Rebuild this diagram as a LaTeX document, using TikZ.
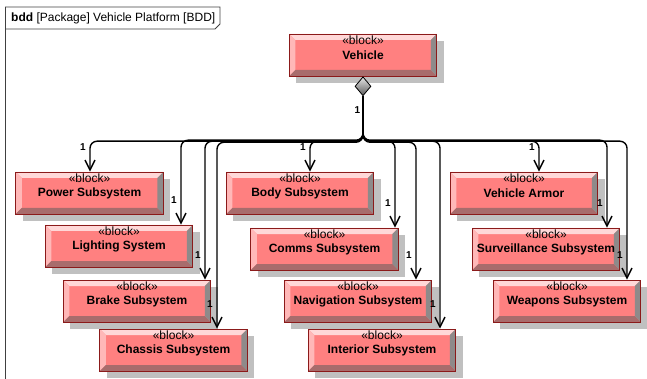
\documentclass[tikz,border=0pt]{standalone}
\usepackage{fontspec}
\setmainfont{Liberation Sans}
\usetikzlibrary{arrows.meta,shapes.geometric,shadows}

\definecolor{blockfill}{HTML}{FF8080}
\definecolor{blockedge}{HTML}{8B1A1A}
\definecolor{beveltop}{HTML}{FFD8D8}
\definecolor{bevelleft}{HTML}{FFB8B8}
\definecolor{bevelbottom}{HTML}{A86C6C}
\definecolor{bevelright}{HTML}{8E8A8A}
\definecolor{shadowgray}{HTML}{C0C0C0}

\tikzset{
  block/.style={draw=blockedge, line width=0.8pt, fill=blockfill,
    minimum width=147.5pt, minimum height=42pt, inner sep=0pt,
    font=\fontsize{12}{14}\selectfont\bfseries,
    drop shadow={shadow xshift=7pt, shadow yshift=-7pt, fill=shadowgray, opacity=1},
    path picture={
      \fill[beveltop] (path picture bounding box.north west) -- (path picture bounding box.north east)
        -- ([shift={(-6pt,-6pt)}]path picture bounding box.north east)
        -- ([shift={(6pt,-6pt)}]path picture bounding box.north west) -- cycle;
      \fill[bevelleft] (path picture bounding box.north west) -- (path picture bounding box.south west)
        -- ([shift={(6pt,6pt)}]path picture bounding box.south west)
        -- ([shift={(6pt,-6pt)}]path picture bounding box.north west) -- cycle;
      \fill[bevelbottom] (path picture bounding box.south west) -- (path picture bounding box.south east)
        -- ([shift={(-6pt,6pt)}]path picture bounding box.south east)
        -- ([shift={(6pt,6pt)}]path picture bounding box.south west) -- cycle;
      \fill[bevelright] (path picture bounding box.north east) -- (path picture bounding box.south east)
        -- ([shift={(-6pt,6pt)}]path picture bounding box.south east)
        -- ([shift={(-6pt,-6pt)}]path picture bounding box.north east) -- cycle;
    }},
  stereo/.style={anchor=north, inner sep=0pt, yshift=-2pt,
    font=\fontsize{12}{14}\selectfont\mdseries},
  composite/.style={diamond, draw=black, line width=0.8pt, aspect=0.84,
    minimum width=16pt, minimum height=19pt, inner sep=0pt,
    top color=gray!20, bottom color=gray!70!black},
  assoc/.style={draw=black, line width=1.4pt, rounded corners=7pt,
    -{Straight Barb[length=10pt,width=10pt]}},
  mult/.style={inner sep=0pt, xshift=-7pt, yshift=25pt,
    font=\fontsize{10}{12}\selectfont\bfseries},
  frame/.style={draw=black!75, line width=0.8pt}
}

\begin{document}
\begin{tikzpicture}[x=1pt,y=-1pt]
  \useasboundingbox (0,0) rectangle (647,379);

  % frame and heading
  \draw[frame] (5.5,379) -- (5.5,7) -- (220,7) -- (220,24) -- (215,29) -- (5.5,29);
  \node[anchor=west, inner sep=0pt, font=\fontsize{12}{14}\selectfont] (title) at (11,18.5)
    {\textbf{bdd} [Package] Vehicle Platform [BDD]};

  % blocks
  \node[block] (veh) at (363,55)    {Vehicle};
  \node[block] (pwr) at (89.5,193)  {Power Subsystem};
  \node[block] (lgt) at (119,246)   {Lighting System};
  \node[block] (brk) at (137,301)   {Brake Subsystem};
  \node[block] (chs) at (173.5,350) {Chassis Subsystem};
  \node[block] (bdy) at (300,193)   {Body Subsystem};
  \node[block] (com) at (324.5,249) {Comms Subsystem};
  \node[block] (nav) at (358,301)   {Navigation Subsystem};
  \node[block] (int) at (382,350)   {Interior Subsystem};
  \node[block] (arm) at (524,193)   {Vehicle Armor};
  \node[block] (srv) at (546,249)   {Surveillance Subsystem};
  \node[block] (wpn) at (567,301)   {Weapons Subsystem};

  \foreach \b in {veh,pwr,lgt,brk,chs,bdy,com,nav,int,arm,srv,wpn}
    \node[stereo] at (\b.north) {«block»};

  % composition
  \node[composite, anchor=north] (dia) at (veh.south) {};
  \node[mult, xshift=1.5pt, yshift=-39pt] at (dia.south) {1};

  \foreach \t/\dx/\d in {pwr/0.5/45, lgt/62/44, brk/68/45, chs/43.5/46,
                         bdy/10/45, com/70.5/45, nav/58/46, int/58/45,
                         arm/15/45, srv/61/44, wpn/60/45}
    \draw[assoc] (dia.south) -- ++(0,\d) -| ([xshift=\dx pt]\t.north) node[mult] {1};
\end{tikzpicture}
\end{document}
